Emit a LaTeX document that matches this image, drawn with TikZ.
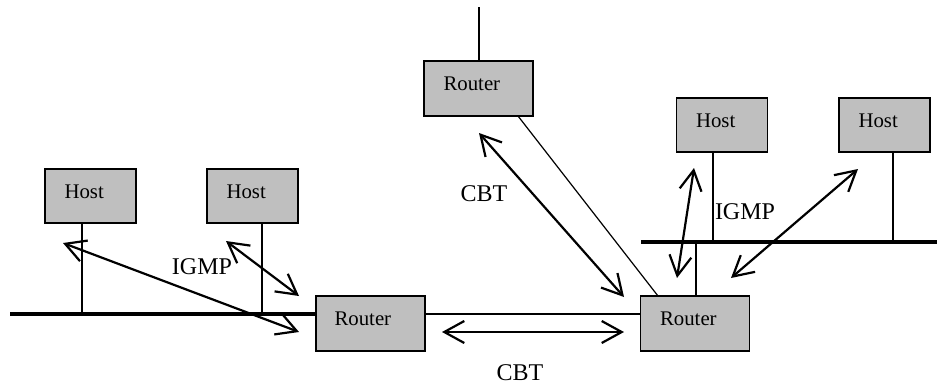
\documentclass[tikz,border=0pt]{standalone}
\usepackage{fontspec}
\setmainfont{Liberation Serif}
\usetikzlibrary{arrows.meta,calc}
\begin{document}
\begin{tikzpicture}[x=1pt,y=-1pt,
  hostbox/.style={draw=black,line width=1.3pt,fill=black!25,minimum width=91pt,minimum height=54pt,inner sep=0pt},
  routerbox/.style={draw=black,line width=1.3pt,fill=black!25,minimum width=109pt,minimum height=55pt,inner sep=0pt},
  lbl/.style={font=\fontsize{20.8}{24}\selectfont,inner sep=0pt,anchor=west},
  tlbl/.style={font=\fontsize{24}{28}\selectfont,inner sep=0pt},
  thin line/.style={line width=1.2pt},
  bus/.style={line width=3.8pt},
  dbl/.style={line width=2.2pt,{Straight Barb[length=20pt,width=22pt]}-{Straight Barb[length=20pt,width=22pt]}}
]
\useasboundingbox (0,0) rectangle (937,386);
% boxes
\node[hostbox] (h1) at (90.5,196) {};
\node[hostbox] (h2) at (252.5,196) {};
\node[hostbox] (h3) at (722,125) {};
\node[hostbox] (h4) at (884.5,125) {};
\node[routerbox] (rt) at (478.5,88.5) {};
\node[routerbox] (rl) at (370.5,323.5) {};
\node[routerbox] (rr) at (695,323.5) {};
% box texts
\node[lbl] (h1t) at ($(h1.west)+(20,-4)$) {Host};
\node[lbl] (h2t) at ($(h2.west)+(20,-4)$) {Host};
\node[lbl] (h3t) at ($(h3.west)+(20,-4)$) {Host};
\node[lbl] (h4t) at ($(h4.west)+(20,-4)$) {Host};
\node[lbl] (rtt) at ($(rt.west)+(20,-5)$) {Router};
\node[lbl] (rlt) at ($(rl.west)+(19,-5)$) {Router};
\node[lbl] (rrt) at ($(rr.west)+(20,-5)$) {Router};
% buses
\coordinate (busL) at (10,314);
\coordinate (busLe) at (316,314);
\coordinate (busRa) at (641,242);
\coordinate (busRb) at (937,242);
\draw[bus] (busL) -- (busLe);
\draw[bus] (busRa) -- (busRb);
% host drops
\coordinate (d1a) at (82,223);  \coordinate (d1b) at (82,314);
\coordinate (d2a) at (262,223); \coordinate (d2b) at (262,314);
\coordinate (d3a) at (713,152); \coordinate (d3b) at (713,242);
\coordinate (d4a) at (893,152); \coordinate (d4b) at (893,242);
\coordinate (d5a) at (696,296); \coordinate (d5b) at (696,242);
\draw[thin line] (d1a) -- (d1b);
\draw[thin line] (d2a) -- (d2b);
\draw[thin line] (d3a) -- (d3b);
\draw[thin line] (d4a) -- (d4b);
\draw[thin line] (d5a) -- (d5b);
% router links
\coordinate (uplink) at (479,7);
\coordinate (uplinkb) at (479,61);
\draw[thin line] (uplinkb) -- (uplink);
\coordinate (l1a) at (425,314); \coordinate (l1b) at (641,314);
\draw[thin line] (l1a) -- (l1b);
\coordinate (l2a) at (518,116); \coordinate (l2b) at (658,296);
\draw[thin line] (l2a) -- (l2b);
% arrows
\coordinate (a1s) at (63,243);  \coordinate (a1e) at (299,332);
\coordinate (a2s) at (226,241); \coordinate (a2e) at (299,296);
\coordinate (a3s) at (479,133); \coordinate (a3e) at (624,297);
\coordinate (a4s) at (442,332); \coordinate (a4e) at (624,332);
\coordinate (a5s) at (694,168); \coordinate (a5e) at (677,278);
\coordinate (a6s) at (858,169); \coordinate (a6e) at (731,278);
\draw[dbl] (a1s) -- (a1e);
\draw[dbl] (a2s) -- (a2e);
\draw[dbl] (a3s) -- (a3e);
\draw[dbl] (a4s) -- (a4e);
\draw[dbl] (a5s) -- (a5e);
\draw[dbl] (a6s) -- (a6e);
% labels
\node[tlbl] (igmp1) at (202,267) {IGMP};
\node[tlbl] (igmp2) at (745,212) {IGMP};
\node[tlbl] (cbt1) at (484,194) {CBT};
\node[tlbl] (cbt2) at (520,373) {CBT};
\end{tikzpicture}
\end{document}
